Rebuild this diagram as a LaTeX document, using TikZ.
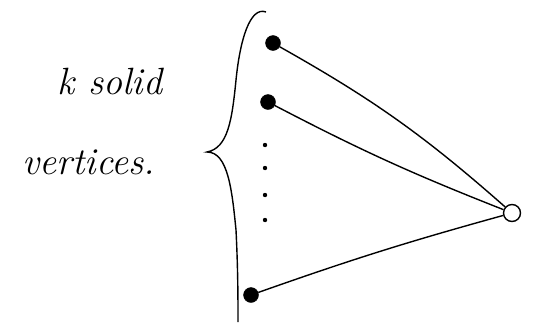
\documentclass[tikz,border=0pt]{standalone}
\usepackage{tikz}
\begin{document}
\begin{tikzpicture}[x=1pt,y=-1pt,solid vertex/.style={circle,fill=black,draw=black,inner sep=0pt,minimum size=15pt},hollow vertex/.style={circle,draw=black,line width=1.4pt,inner sep=0pt,minimum size=17pt},edge/.style={black,line width=1.4pt}]
	\useasboundingbox (0,0) rectangle (534,327);
	\node[solid vertex] (v1) at (273,43) {};
	\node[solid vertex] (v2) at (268,102) {};
	\node[solid vertex] (vk) at (251,295) {};
	\node[hollow vertex] (w) at (512,213) {};
	\foreach \y in {145,168,195,220} \fill (265,\y) circle (2.2pt);
	\draw[edge] (v1) to[bend left=6] (w);
	\draw[edge] (v2) to[bend right=3] (w);
	\draw[edge] (vk) to[bend left=2] (w);
	\draw[line width=1.4pt] (266,12) .. controls (250,6) and (240,40) .. (236,80) .. controls (232,120) and (228,148) .. (207,152) .. controls (228,152) and (232,190) .. (236,230) .. controls (238,270) and (238,300) .. (238,322);
	\node[font=\itshape\fontsize{38}{44}\selectfont] (lab1) at (110,82) {k solid};
	\node[font=\itshape\fontsize{38}{44}\selectfont] (lab2) at (89,162) {vertices.};
\end{tikzpicture}
\end{document}
